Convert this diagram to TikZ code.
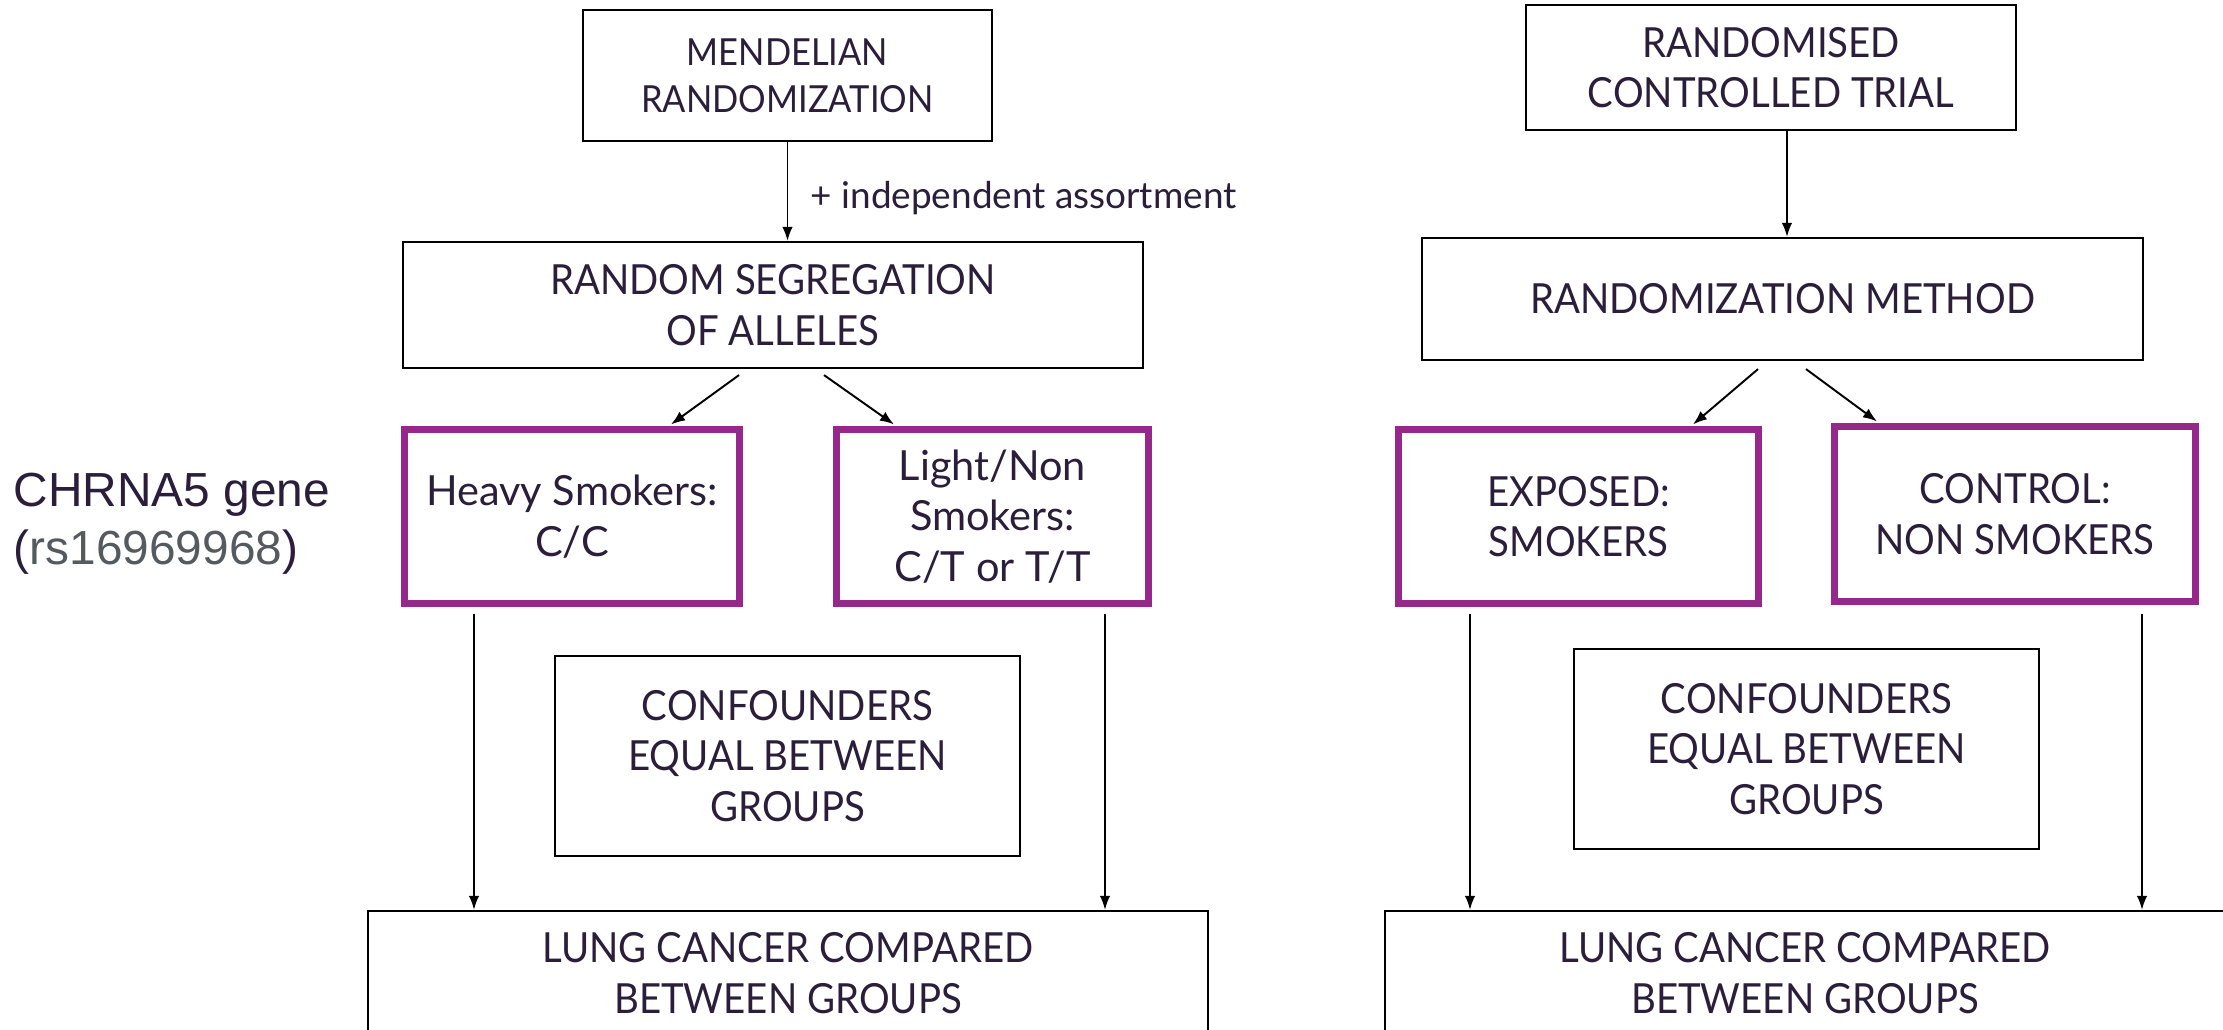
\documentclass[tikz,border=0pt]{standalone}
\usepackage{fontspec}
\setmainfont{Lato}
\newfontfamily\capsfont{Lato}[FakeStretch=0.925]
\newfontfamily\arialfont{Liberation Sans}
\usetikzlibrary{calc,arrows.meta}
\definecolor{ink}{HTML}{2A1E3A}
\definecolor{plum}{HTML}{96288C}
\definecolor{idgrey}{HTML}{555A5E}
\tikzset{
  box/.style={draw=black, line width=0.6pt, inner sep=0pt, align=center,
    text=ink, font=\capsfont\fontsize{11.8}{14.3}\selectfont},
  groupbox/.style={box, draw=plum, line width=2pt},
  mixed/.style={font=\rmfamily\fontsize{11.8}{14.4}\selectfont},
  arr/.style={-{Latex[length=4pt,width=3pt]}, line width=0.55pt, draw=black},
}
\begin{document}
\begin{tikzpicture}[x=0.01cm, y=-0.01cm]
\clip (0,0) rectangle (2223,1030);
\fill[white] (0,0) rectangle (2223,1030);

% ---- Mendelian randomization branch ----
\node[box, minimum width=4.09cm, minimum height=1.31cm,
  font=\capsfont\fontsize{10.6}{13.3}\selectfont] (mr) at (787.5,75.5)
  {MENDELIAN\\RANDOMIZATION};
\node[box, minimum width=7.40cm, minimum height=1.26cm] (rsa) at (773,305)
  {RANDOM SEGREGATION\\OF ALLELES};
\node[groupbox, mixed, minimum width=3.34cm, minimum height=1.73cm] (heavy) at (572,516.5)
  {Heavy Smokers:\\C/C};
\node[groupbox, mixed, minimum width=3.11cm, minimum height=1.73cm] (light) at (992.5,516.5)
  {Light/Non\\Smokers:\\C/T or T/T};
\node[box, minimum width=4.65cm, minimum height=2.00cm] (conf) at (787.5,756)
  {CONFOUNDERS\\EQUAL BETWEEN\\GROUPS};
\node[box, minimum width=8.40cm, minimum height=1.24cm] (lung) at (788,973)
  {LUNG CANCER COMPARED\\BETWEEN GROUPS};

\node[anchor=west, text=ink, font=\fontsize{10.5}{12}\selectfont, inner sep=0pt]
  (assort) at (810,198) {+ independent assortment};

\node[anchor=west, inner sep=0pt, align=left, font=\arialfont\fontsize{13.6}{16.4}\selectfont]
  (gene) at (13,524)
  {\textcolor{ink}{CHRNA5 gene}\\\textcolor{ink}{(}\textcolor{idgrey}{rs16969968}\textcolor{ink}{)}};

\draw[arr] (mr.south) -- (mr.south |- rsa.north);
\draw[arr] ($(rsa.south)+(-34,6)$) -- ($(heavy.north)+(99,-2)$);
\draw[arr] ($(rsa.south)+(51,6)$) -- ($(light.north)+(-98.5,-2)$);
\draw[arr] ($(heavy.south)+(-98,7)$) coordinate (h0) -- (h0 |- lung.north);
\draw[arr] ($(light.south)+(112.5,7)$) coordinate (l0) -- (l0 |- lung.north);

% ---- Randomised controlled trial branch ----
\node[box, minimum width=4.90cm, minimum height=1.25cm] (rct) at (1771,67.5)
  {RANDOMISED\\CONTROLLED TRIAL};
\node[box, minimum width=7.21cm, minimum height=1.22cm] (rm) at (1782.5,299)
  {RANDOMIZATION METHOD};
\node[groupbox, minimum width=3.59cm, minimum height=1.73cm] (exposed) at (1578.5,516.5)
  {EXPOSED:\\SMOKERS};
\node[groupbox, minimum width=3.60cm, minimum height=1.74cm] (control) at (2015,514)
  {CONTROL:\\NON SMOKERS};
\node[box, minimum width=4.65cm, minimum height=2.00cm] (conf2) at (1806.5,749)
  {CONFOUNDERS\\EQUAL BETWEEN\\GROUPS};
\node[box, minimum width=8.40cm, minimum height=1.24cm] (lung2) at (1805,973)
  {LUNG CANCER COMPARED\\BETWEEN GROUPS};

\draw[arr] ($(rct.south)+(16,0)$) coordinate (r0) -- (r0 |- rm.north);
\draw[arr] ($(rm.south)+(-24.5,8)$) -- ($(exposed.north)+(114.5,-2)$);
\draw[arr] ($(rm.south)+(23.5,8)$) -- ($(control.north)+(-138,-2)$);
\draw[arr] ($(exposed.south)+(-108.5,7)$) coordinate (e0) -- (e0 |- lung2.north);
\draw[arr] ($(control.south)+(127,9)$) coordinate (c0) -- (c0 |- lung2.north);
\end{tikzpicture}
\end{document}
